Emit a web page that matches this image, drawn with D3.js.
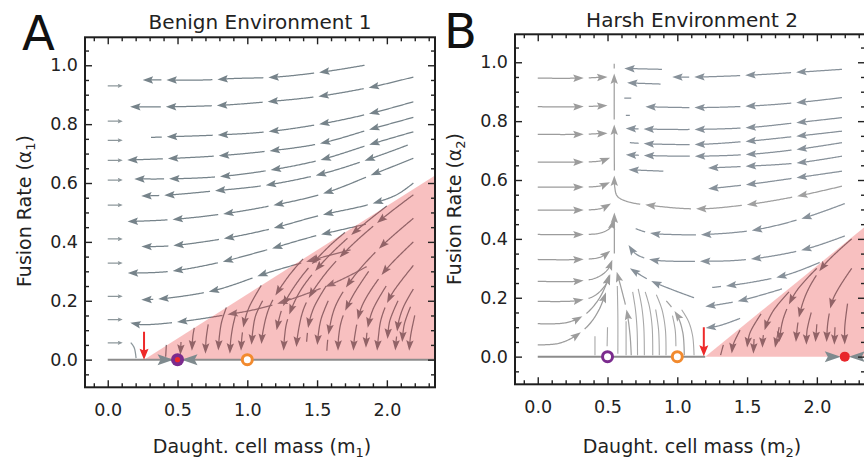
<!DOCTYPE html>
<html><head><meta charset="utf-8">
<script src="https://cdn.jsdelivr.net/npm/d3@7"></script>
<style>
html,body{margin:0;padding:0;background:#fff;}
svg{display:block;font-family:"DejaVu Sans",Verdana,sans-serif;}
</style></head>
<body><svg id="chart" width="864" height="459"></svg>
<script>
// ---------------- DATA ----------------
const xTickValues = [0, 0.5, 1.0, 1.5, 2.0];
const xTickLabels = ["0.0", "0.5", "1.0", "1.5", "2.0"];
const yTickValues = [0, 0.2, 0.4, 0.6, 0.8, 1.0];
const yTickLabels = ["0.0", "0.2", "0.4", "0.6", "0.8", "1.0"];
const xMinorTicks = [-0.1,0.1,0.2,0.3,0.4,0.6,0.7,0.8,0.9,1.1,1.2,1.3,1.4,1.6,1.7,1.8,1.9,2.1,2.2,2.3];
const yMinorTicks = [-0.05,0.05,0.1,0.15,0.25,0.3,0.35,0.45,0.5,0.55,0.65,0.7,0.75,0.85,0.9,0.95,1.05];

const panelTitles = ["Benign Environment 1", "Harsh Environment 2"];
const panelLetters = ["A", "B"];
const subscripts = ["1", "2"];

// Panel A: streamlines (data coords) – white region, flowing left
const streamsA = [
  [[1.84,1.0],[1.58,0.98],[1.21,0.96],[0.90,0.955],[0.69,0.95],[0.40,0.95],[0.25,0.95]],
  [[2.19,0.96],[1.90,0.927],[1.52,0.895],[1.19,0.878],[0.81,0.864],[0.45,0.859],[0.16,0.859]],
  [[2.19,0.876],[1.88,0.836],[1.52,0.80],[1.14,0.774],[0.78,0.763],[0.43,0.757],[0.31,0.755]],
  [[2.19,0.823],[1.90,0.785],[1.52,0.734],[1.14,0.708],[0.78,0.692],[0.43,0.683],[0.14,0.678]],
  [[2.19,0.774],[1.90,0.734],[1.52,0.678],[1.14,0.642],[0.78,0.621],[0.43,0.614],[0.19,0.614]],
  [[2.15,0.729],[1.92,0.689],[1.55,0.633],[1.14,0.593],[0.78,0.574],[0.43,0.559],[0.24,0.556]],
  [[2.19,0.684],[1.92,0.633],[1.55,0.565],[1.14,0.520],[0.78,0.492],[0.43,0.475],[0.14,0.469]],
  [[2.19,0.60],[2.07,0.56],[1.855,0.525],[1.52,0.49],[1.14,0.441],[0.78,0.407],[0.43,0.386],[0.24,0.384]],
  [[1.85,0.46],[1.47,0.418],[1.14,0.373],[0.78,0.328],[0.43,0.299],[0.14,0.294]],
  [[1.74,0.373],[1.40,0.33],[1.14,0.294],[0.78,0.237],[0.43,0.209],[0.24,0.203]],
  [[1.855,0.316],[1.62,0.26],[1.14,0.18],[0.78,0.147],[0.43,0.124],[0.24,0.119],[0.16,0.125]]
];
// Panel A: short marks near m=0 (flowing right)
const leftMarksA = [
  [[0,0.93],[0.11,0.93]],[[0,0.81],[0.11,0.81]],[[0,0.745],[0.11,0.745]],[[0,0.677],[0.11,0.677]],
  [[0,0.61],[0.11,0.61]],[[0,0.525],[0.11,0.525]],[[0,0.41],[0.11,0.41]],[[0,0.328],[0.11,0.328]],
  [[0,0.215],[0.11,0.215]],[[0,0.136],[0.11,0.136]],[[0,0.057],[0.11,0.057]]
];
// Panel A: streamlines inside shaded region (flowing down)
const pinkStreamsA = [
  [[2.19,0.56],[1.97,0.48],[1.73,0.38],[1.54,0.28],[1.41,0.18],[1.36,0.08],[1.35,0.03]],
  [[2.19,0.48],[1.95,0.38],[1.76,0.28],[1.63,0.18],[1.58,0.08],[1.57,0.03]],
  [[2.19,0.40],[2.04,0.33],[1.95,0.28],[1.82,0.18],[1.77,0.08],[1.76,0.03]],
  [[2.19,0.32],[2.045,0.23],[1.99,0.18],[1.955,0.13],[1.94,0.08],[1.93,0.03]],
  [[2.19,0.24],[2.12,0.18],[2.085,0.13],[2.07,0.08],[2.06,0.03]],
  [[2.2,0.15],[2.17,0.08],[2.16,0.03]],
  [[2.0,0.522],[1.76,0.43],[1.54,0.33],[1.375,0.23],[1.285,0.13],[1.2675,0.08],[1.26,0.03]],
  [[1.7,0.432],[1.575,0.38],[1.385,0.28],[1.255,0.18],[1.21,0.10]],
  [[1.4,0.342],[1.29,0.28],[1.16,0.18],[1.107,0.08],[1.10,0.03]],
  [[1.1,0.252],[1.015,0.18],[0.98,0.13],[0.962,0.08],[0.955,0.03]],
  [[0.85,0.177],[0.817,0.13],[0.80,0.08],[0.792,0.03]],
  [[0.62,0.108],[0.61,0.08],[0.603,0.03]],
  [[0.42,0.05],[0.415,0.01]],
  [[0.525,0.06],[0.52,0.015]],
  [[0.72,0.12],[0.705,0.07],[0.70,0.02]],
  [[0.92,0.16],[0.895,0.11],[0.88,0.06],[0.875,0.02]],
  [[1.11,0.2],[1.06,0.15],[1.04,0.1],[1.03,0.05]],
  [[1.565,0.25],[1.48,0.18],[1.44,0.12],[1.425,0.06]],
  [[1.58,0.2],[1.53,0.14],[1.51,0.09],[1.50,0.04]],
  [[1.87,0.3],[1.76,0.22],[1.68,0.14],[1.655,0.08],[1.65,0.03]],
  [[1.995,0.25],[1.90,0.17],[1.86,0.1],[1.85,0.04]],
  [[2.08,0.2],[2.02,0.13],[2.005,0.07]],
  [[2.17,0.18],[2.125,0.12],[2.11,0.06]]
];
const arcsA = [[[0.165,0.058],[0.19,0.04],[0.203,0.005]]];
const shadeA = [[0.26,0],[2.36,0.63],[2.36,0]];
const redArrowA = [[0.26,0.095],[0.26,0.0]];
const baselineA = [[0,0],[2.345,0]];

// Panel B
const streamsBLeft = [
  [[0,0.946],[0.29,0.946],[0.5,0.95]],
  [[0,0.849],[0.3,0.849],[0.5,0.853]],
  [[0,0.755],[0.3,0.755],[0.5,0.759]],
  [[0,0.661],[0.3,0.661],[0.45,0.665],[0.52,0.676]],
  [[0,0.576],[0.3,0.576],[0.45,0.58],[0.52,0.593]],
  [[0,0.498],[0.3,0.498],[0.45,0.503],[0.525,0.52]],
  [[0,0.415],[0.3,0.415],[0.45,0.42],[0.525,0.44],[0.545,0.47]],
  [[0,0.33],[0.3,0.33],[0.45,0.338],[0.52,0.36]],
  [[0,0.256],[0.28,0.256],[0.42,0.268],[0.5,0.295],[0.535,0.33]],
  [[0,0.188],[0.28,0.19],[0.4,0.205],[0.48,0.24],[0.52,0.28]],
  [[0,0.112],[0.2,0.115],[0.33,0.14],[0.43,0.19],[0.49,0.245],[0.525,0.3]],
  [[0,0.04],[0.15,0.045],[0.27,0.07],[0.37,0.11],[0.44,0.16],[0.49,0.22]]
];
const streamsBCenter = [
  [[2.18,0.579],[1.86,0.545],[1.51,0.517],[1.15,0.502],[0.82,0.513],[0.64,0.527],[0.57,0.545],[0.552,0.575],[0.549,0.65],[0.548,0.8],[0.548,0.995]],
  [[0.549,0.35],[0.549,0.49]],
  [[0.67,0.005],[0.662,0.07],[0.64,0.15],[0.605,0.22],[0.565,0.29]],
  [[1.05,0.005],[1.04,0.08],[1.0,0.14],[0.92,0.19]]
];
// Panel B: fan of thin lines rising from the m axis (no arrowheads)
const fanB = [
  [[0.41,0.005],[0.41,0.07]],
  [[0.497,0.035],[0.5,0.1]],
  [[0.574,0.01],[0.574,0.14],[0.57,0.24]],
  [[0.633,0.005],[0.633,0.12]],
  [[0.715,0.005],[0.712,0.09],[0.70,0.16],[0.68,0.22]],
  [[0.764,0.005],[0.76,0.1],[0.745,0.17],[0.72,0.23]],
  [[0.824,0.005],[0.82,0.1],[0.80,0.17],[0.77,0.22]],
  [[0.871,0.005],[0.866,0.09],[0.845,0.16]],
  [[0.919,0.005],[0.915,0.09],[0.89,0.16],[0.85,0.21]],
  [[0.99,0.035],[0.985,0.09],[0.965,0.14]],
  [[1.12,0.005],[1.11,0.07],[1.08,0.12],[1.03,0.16]]
];
const streamsBRight = [
  [[2.18,0.976],[1.86,0.966],[1.51,0.956],[1.15,0.95],[0.96,0.95]],
  [[0.89,0.976],[0.62,0.979]],
  [[0.88,0.926],[0.64,0.93]],
  [[2.18,0.88],[1.86,0.863],[1.51,0.851],[1.15,0.846],[0.77,0.849]],
  [[0.67,0.878],[0.62,0.878]],
  [[0.66,0.82],[0.63,0.82]],
  [[2.18,0.812],[1.86,0.795],[1.51,0.778],[1.15,0.772],[0.91,0.772],[0.63,0.775]],
  [[2.18,0.766],[1.86,0.749],[1.51,0.732],[1.15,0.721],[0.79,0.723],[0.66,0.727]],
  [[2.18,0.727],[1.86,0.704],[1.51,0.687],[1.15,0.681],[0.79,0.683],[0.63,0.686]],
  [[2.18,0.681],[1.86,0.658],[1.51,0.647],[1.22,0.641]],
  [[0.9,0.63],[0.65,0.635]],
  [[2.18,0.63],[1.86,0.608],[1.51,0.585],[1.22,0.57]],
  [[2.2,0.52],[1.9,0.47],[1.55,0.43],[1.2,0.415],[0.95,0.415],[0.8,0.42],[0.7,0.435]],
  [[2.2,0.41],[1.91,0.364],[1.5,0.33],[1.15,0.324],[0.81,0.33],[0.7,0.35],[0.65,0.38]],
  [[2.02,0.32],[1.8,0.28],[1.5,0.25],[1.25,0.235]],
  [[1.75,0.23],[1.45,0.19],[1.2,0.17]],
  [[1.45,0.13],[1.3,0.105],[1.2,0.097]],
  [[1.12,0.2],[0.95,0.23],[0.8,0.26],[0.66,0.3]]
];
const pinkStreamsB = [
  [[2.25,0.4],[2.05,0.31],[1.93,0.22],[1.87,0.13],[1.85,0.05]],
  [[2.0,0.3],[1.85,0.22],[1.76,0.13],[1.73,0.05]],
  [[1.8,0.22],[1.68,0.15],[1.62,0.08],[1.61,0.03]],
  [[1.6,0.145],[1.52,0.08],[1.5,0.03]],
  [[1.45,0.09],[1.4,0.04],[1.39,0.01]],
  [[2.25,0.3],[2.12,0.2],[2.08,0.12],[2.07,0.05]],
  [[2.22,0.18],[2.2,0.1],[2.2,0.04]],
  [[1.33,0.04],[1.31,0.005]],
  [[1.96,0.15],[1.93,0.09],[1.925,0.04]],
  [[1.73,0.1],[1.7,0.03]],
  [[2.0,0.11],[1.99,0.05]],
  [[1.55,0.06],[1.545,0.01]],
  [[2.13,0.1],[2.125,0.04]]
];
const shadeB = [[1.2,0],[2.36,0.447],[2.36,0]];
const redArrowB = [[1.19,0.1],[1.19,0.0]];
const baselineB = [[0,0],[1.2,0]];

const markersA = [
  {x:0.5, y:0, kind:"filled", color:"#7b2b8e"},
  {x:1.0, y:0, kind:"open", color:"#f28a2e"}
];
const markersB = [
  {x:0.5, y:0, kind:"open", color:"#7b2b8e"},
  {x:1.0, y:0, kind:"open", color:"#f28a2e"},
  {x:2.2, y:0, kind:"dot", color:"#e8262b"}
];
const stableA = [{x:0.5, y:0}];
const stableB = [{x:2.2, y:0}];

// ---------------- DRAW ----------------
const svg = d3.select("#chart");
const xDomain = [-0.163, 2.345], yDomain = [-0.094, 1.095];
const PW = 350, PH = 350;
const panels = [
  {left:85, top:37.3, streams:[
     {d:streamsA, color:"#76838a"},
     {d:leftMarksA, color:"#8d979b", seg:20, alen:5, ahw:2.2},
     {d:pinkStreamsA, color:"#6e7a80"},
     {d:arcsA, color:"#8d979b", arrow:false}],
   shade:shadeA, red:redArrowA, base:baselineA, markers:markersA, stable:stableA,
   titleX:260, titleY:29, letterX:38.5, letterY:50, ylabX:24, ylabY:211},
  {left:515, top:34.3, streams:[
     {d:streamsBLeft, color:"#9c9c9c"},
     {d:streamsBCenter, color:"#a0a0a0"},
     {d:fanB, color:"#a8a8a8", arrow:false, seg:400, sw:1.1},
     {d:streamsBRight, color:"#87919a"},
     {d:pinkStreamsB, color:"#6e7a80"}],
   shade:shadeB, red:redArrowB, base:baselineB, markers:markersB, stable:stableB,
   titleX:692, titleY:27, letterX:460.5, letterY:48, ylabX:454, ylabY:209}
];

function drawStream(g, data, x, y, opt) {
  const line = d3.line().x(d=>x(d[0])).y(d=>y(d[1])).curve(d3.curveCatmullRom.alpha(0.5));
  const tmp = g.append("path").attr("d", line(data)).attr("fill","none");
  const node = tmp.node();
  const total = node.getTotalLength();
  const samples = [];
  for (let l = 0; l < total; l += 1) samples.push(node.getPointAtLength(l));
  samples.push(node.getPointAtLength(total));
  tmp.remove();
  const seg = opt.seg || 46, gap = opt.gap || 5, alen = opt.alen || 10.5, ahw = opt.ahw || 3.7;
  const color = opt.color;
  const at = l => samples[Math.min(samples.length-1, Math.max(0, Math.round(l)))];
  for (let s = 0; s < total - 2; s += seg + gap) {
    const e = Math.min(s + seg, total);
    const len = e - s;
    if (len < 3) break;
    const withArrow = opt.arrow !== false && len >= 12;
    const lineEnd = withArrow ? e - alen * 0.75 : e;
    const pts = [];
    for (let l = s; l <= lineEnd; l += 1) { const p = at(l); pts.push([p.x, p.y]); }
    const pe = at(lineEnd); pts.push([pe.x, pe.y]);
    g.append("path").attr("d", d3.line()(pts)).attr("fill","none")
      .attr("stroke", color).attr("stroke-width", opt.sw || 1.25).attr("stroke-linecap","butt");
    if (withArrow) {
      const tip = at(e), back = at(e - 4);
      let dx = tip.x - back.x, dy = tip.y - back.y; const n = Math.hypot(dx, dy) || 1;
      dx /= n; dy /= n;
      const bx = tip.x - dx * alen, by = tip.y - dy * alen;
      const tri = [[tip.x, tip.y],[bx - dy*ahw, by + dx*ahw],[tip.x - dx*alen*0.82, tip.y - dy*alen*0.82],[bx + dy*ahw, by - dx*ahw]];
      g.append("path").attr("d", "M" + tri.map(p=>p.join(",")).join("L") + "Z").attr("fill", color);
    }
  }
}

panels.forEach((P, i) => {
  const x = d3.scaleLinear().domain(xDomain).range([P.left, P.left + PW]);
  const y = d3.scaleLinear().domain(yDomain).range([P.top + PH, P.top]);
  const clipId = "clip" + i;
  svg.append("clipPath").attr("id", clipId).append("rect")
    .attr("x", P.left).attr("y", P.top).attr("width", PW).attr("height", PH);
  const g = svg.append("g").attr("clip-path", `url(#${clipId})`);

  P.streams.forEach(s => s.d.forEach(line => drawStream(g, line, x, y, s)));

  // shaded region (translucent overlay)
  g.append("path").attr("d", d3.line().x(d=>x(d[0])).y(d=>y(d[1]))(P.shade) + "Z")
    .attr("fill", "rgb(232,45,45)").attr("fill-opacity", 0.3);

  // baseline
  g.append("path").attr("d", d3.line().x(d=>x(d[0])).y(d=>y(d[1]))(P.base))
    .attr("stroke", "#8c8c8c").attr("stroke-width", 2).attr("fill","none");

  // red arrow
  drawStream(g, P.red, x, y, {color:"#ee2a2a", seg:200, alen:11, ahw:4.5, sw:2});

  // stable node bowties
  P.stable.forEach(s => {
    const cx = x(s.x), cy = y(s.y);
    [-1, 1].forEach(sg => {
      const tipX = cx + sg * 4, baseX = cx + sg * 20;
      g.append("path").attr("d", `M${tipX},${cy}L${baseX},${cy-5.5}L${baseX - sg*3},${cy}L${baseX},${cy+5.5}Z`)
        .attr("fill", "#7f8a8e");
    });
  });

  // markers
  P.markers.forEach(m => {
    const cx = x(m.x), cy = y(m.y);
    if (m.kind === "filled") {
      g.append("circle").attr("cx", cx).attr("cy", cy).attr("r", 6.5).attr("fill", m.color);
      g.append("circle").attr("cx", cx).attr("cy", cy).attr("r", 2.6).attr("fill", "#ee2a2a");
    } else if (m.kind === "open") {
      g.append("circle").attr("cx", cx).attr("cy", cy).attr("r", 5).attr("fill", "#fff")
        .attr("stroke", m.color).attr("stroke-width", 3);
    } else {
      g.append("circle").attr("cx", cx).attr("cy", cy).attr("r", 5).attr("fill", m.color);
    }
  });

  // axes / ticks
  const tickStyle = sel => {
    sel.select(".domain").remove();
    sel.selectAll(".tick line").attr("stroke", "#222").attr("stroke-width", 1.4);
    sel.selectAll("text").attr("fill", "#222").style("font-family", '"DejaVu Sans",Verdana,sans-serif').style("font-size", "17.5px");
  };
  svg.append("g").attr("transform", `translate(0,${P.top + PH})`)
    .call(d3.axisBottom(x).tickValues(xTickValues).tickFormat((d,k)=>xTickLabels[k]).tickSize(-7).tickPadding(16.5)).call(tickStyle);
  svg.append("g").attr("transform", `translate(0,${P.top + PH})`)
    .call(d3.axisBottom(x).tickValues(xMinorTicks).tickFormat("").tickSize(-4)).call(tickStyle);
  svg.append("g").attr("transform", `translate(0,${P.top})`)
    .call(d3.axisTop(x).tickValues(xTickValues).tickFormat("").tickSize(-7)).call(tickStyle);
  svg.append("g").attr("transform", `translate(0,${P.top})`)
    .call(d3.axisTop(x).tickValues(xMinorTicks).tickFormat("").tickSize(-4)).call(tickStyle);
  svg.append("g").attr("transform", `translate(${P.left},0)`)
    .call(d3.axisLeft(y).tickValues(yTickValues).tickFormat((d,k)=>yTickLabels[k]).tickSize(-7).tickPadding(7)).call(tickStyle);
  svg.append("g").attr("transform", `translate(${P.left},0)`)
    .call(d3.axisLeft(y).tickValues(yMinorTicks).tickFormat("").tickSize(-4)).call(tickStyle);
  svg.append("g").attr("transform", `translate(${P.left + PW},0)`)
    .call(d3.axisRight(y).tickValues(yTickValues).tickFormat("").tickSize(-7)).call(tickStyle);
  svg.append("g").attr("transform", `translate(${P.left + PW},0)`)
    .call(d3.axisRight(y).tickValues(yMinorTicks).tickFormat("").tickSize(-4)).call(tickStyle);

  svg.append("rect").attr("x", P.left).attr("y", P.top).attr("width", PW).attr("height", PH)
    .attr("fill", "none").attr("stroke", "#1e1e1e").attr("stroke-width", 2);

  // titles
  svg.append("text").attr("x", P.titleX).attr("y", P.titleY).attr("text-anchor","middle")
    .attr("fill","#222").style("font-size","20px").text(panelTitles[i]);
  svg.append("text").attr("x", P.letterX).attr("y", P.letterY).attr("text-anchor","middle")
    .attr("fill","#111").style("font-size","48px").text(panelLetters[i]);

  // x label
  const xl = svg.append("text").attr("x", P.left + PW/2 + 2).attr("y", 453).attr("text-anchor","middle")
    .attr("fill","#222").style("font-size","19px");
  xl.append("tspan").text("Daught. cell mass (m");
  xl.append("tspan").attr("dy", 4).style("font-size","13px").text(subscripts[i]);
  xl.append("tspan").attr("dy", -4).text(")");

  // y label
  const yl = svg.append("text").attr("transform", `translate(${P.ylabX},${P.ylabY}) rotate(-90)`)
    .attr("text-anchor","middle").attr("dy","0.35em").attr("fill","#222").style("font-size","19px");
  yl.append("tspan").text("Fusion Rate (α");
  yl.append("tspan").attr("dy", 4).style("font-size","13px").text(subscripts[i]);
  yl.append("tspan").attr("dy", -4).text(")");
});
</script>
</body></html>
